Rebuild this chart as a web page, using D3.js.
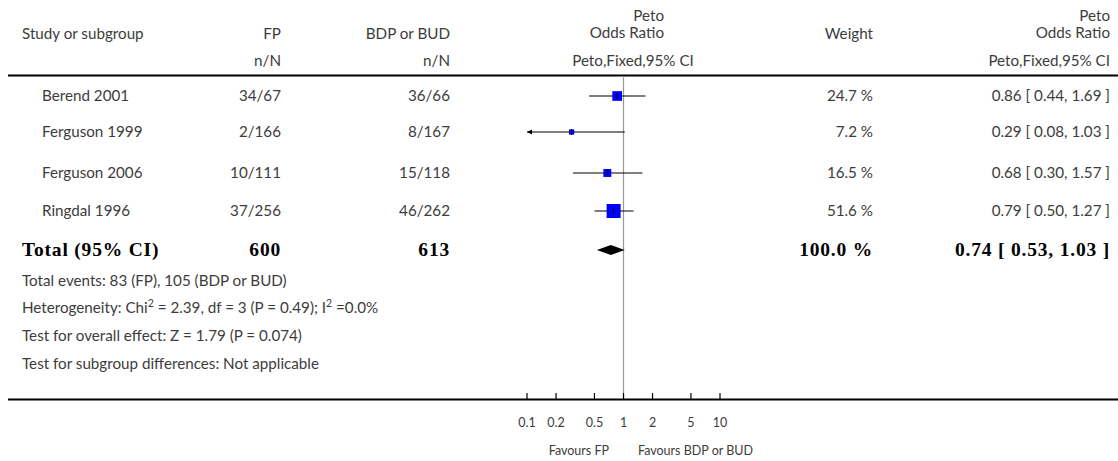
<!DOCTYPE html>
<html><head><meta charset="utf-8">
<script src="https://cdn.jsdelivr.net/npm/d3@7"></script>
<style>
body{margin:0;background:#fff;}
svg text{font-family:Lato,"Open Sans",sans-serif;fill:#3c3c3c;font-size:15.2px;}
svg text.bold{font-family:"Liberation Serif","DejaVu Serif",serif;font-weight:bold;fill:#000;font-size:19.5px;letter-spacing:0.8px;}
svg text.small{font-size:12.5px;}
</style></head><body>
<script>
const studies = ["Berend 2001","Ferguson 1999","Ferguson 2006","Ringdal 1996"];
const fpEvents = ["34/67","2/166","10/111","37/256"];
const bdpEvents = ["36/66","8/167","15/118","46/262"];
const weights = [24.7,7.2,16.5,51.6];
const orVals = [0.86,0.29,0.68,0.79];
const ciLow = [0.44,0.08,0.30,0.50];
const ciHigh = [1.69,1.03,1.57,1.27];
const total = {label:"Total (95% CI)", fp:"600", bdp:"613", weight:"100.0 %", or:0.74, lo:0.53, hi:1.03, ci:"0.74 [ 0.53, 1.03 ]"};
const tickVals = [0.1,0.2,0.5,1,2,5,10];
const tickLabels = ["0.1","0.2","0.5","1","2","5","10"];
const footnotes = ["Total events: 83 (FP), 105 (BDP or BUD)","Heterogeneity: Chi|2| = 2.39, df = 3 (P = 0.49); I|2| =0.0%","Test for overall effect: Z = 1.79 (P = 0.074)","Test for subgroup differences: Not applicable"];

const W=1118,H=461;
const svg=d3.select("body").append("svg").attr("width",W).attr("height",H);
const x=d3.scaleLog().domain([0.1,10]).range([527,720]);
const yPos=[96,132,173,211];
const size=d3.scaleSqrt().domain([0,51.6]).range([0,14]);

// headers
const hdr=[
 {t:"Study or subgroup",x:22,y:39,a:"start"},
 {t:"FP",x:281,y:39,a:"end"},
 {t:"BDP or BUD",x:450,y:39,a:"end"},
 {t:"Peto",x:664,y:21,a:"end"},
 {t:"Odds Ratio",x:664,y:38,a:"end"},
 {t:"Weight",x:873,y:39,a:"end"},
 {t:"Peto",x:1110,y:21,a:"end"},
 {t:"Odds Ratio",x:1110,y:38,a:"end"},
 {t:"n/N",x:281,y:66,a:"end"},
 {t:"n/N",x:450,y:66,a:"end"},
 {t:"Peto,Fixed,95% CI",x:633,y:66,a:"middle"},
 {t:"Peto,Fixed,95% CI",x:1110,y:66,a:"end"}
];
svg.selectAll("text.h").data(hdr).join("text").attr("class","h")
 .attr("x",d=>d.x).attr("y",d=>d.y).attr("text-anchor",d=>d.a).text(d=>d.t);

svg.append("line").attr("x1",8).attr("x2",1118).attr("y1",75.5).attr("y2",75.5).attr("stroke","#000").attr("stroke-width",2);
svg.append("line").attr("x1",8).attr("x2",1118).attr("y1",399.5).attr("y2",399.5).attr("stroke","#000").attr("stroke-width",2);
svg.append("line").attr("x1",x(1)).attr("x2",x(1)).attr("y1",76).attr("y2",399).attr("stroke","#999").attr("stroke-width",1.2);

// rows
studies.forEach((s,i)=>{
  const y=yPos[i];
  svg.append("text").attr("x",42).attr("y",y+5).text(s);
  svg.append("text").attr("x",281).attr("y",y+5).attr("text-anchor","end").text(fpEvents[i]);
  svg.append("text").attr("x",450).attr("y",y+5).attr("text-anchor","end").text(bdpEvents[i]);
  svg.append("text").attr("x",873).attr("y",y+5).attr("text-anchor","end").text(weights[i].toFixed(1)+" %");
  svg.append("text").attr("x",1110).attr("y",y+5).attr("text-anchor","end")
    .text(orVals[i].toFixed(2)+" [ "+ciLow[i].toFixed(2)+", "+ciHigh[i].toFixed(2)+" ]");
  const lo=Math.max(ciLow[i],0.1), hi=Math.min(ciHigh[i],10);
  svg.append("line").attr("x1",x(lo)).attr("x2",x(hi)).attr("y1",y).attr("y2",y).attr("stroke","#000").attr("stroke-width",1.2);
  if(ciLow[i]<0.1){
    svg.append("path").attr("d",`M${x(0.1)},${y} l5,-2.5 l0,5 z`).attr("fill","#000");
  }
  const s2=size(weights[i]);
  svg.append("rect").attr("x",x(orVals[i])-s2/2).attr("y",y-s2/2).attr("width",s2).attr("height",s2).attr("fill","#0000ff");
  svg.append("line").attr("x1",x(orVals[i])).attr("x2",x(orVals[i])).attr("y1",y-3).attr("y2",y+3).attr("stroke","#000").attr("stroke-width",1);
});

// total
const ty=250;
svg.append("text").attr("class","bold").attr("x",22).attr("y",ty+6).text(total.label);
svg.append("text").attr("class","bold").attr("x",281).attr("y",ty+6).attr("text-anchor","end").text(total.fp);
svg.append("text").attr("class","bold").attr("x",450).attr("y",ty+6).attr("text-anchor","end").text(total.bdp);
svg.append("text").attr("class","bold").attr("x",873).attr("y",ty+6).attr("text-anchor","end").text(total.weight);
svg.append("text").attr("class","bold").attr("x",1110).attr("y",ty+6).attr("text-anchor","end").text(total.ci);
svg.append("path").attr("d",`M${x(total.lo)},${ty} L${x(total.or)},${ty-5} L${x(total.hi)},${ty} L${x(total.or)},${ty+5} Z`).attr("fill","#000");

// footnotes
const fy=[286,313,341,369];
footnotes.forEach((f,i)=>{
  const t=svg.append("text").attr("x",22).attr("y",fy[i]);
  f.split("|").forEach((part,j)=>{
    const ts=t.append("tspan").text(part);
    if(j%2===1){ts.attr("dy",-6).style("font-size","10.5px");}
    else if(j>0){ts.attr("dy",6);}
  });
});

// axis
const ax=svg.append("g").attr("transform","translate(0,399)");
ax.selectAll("line.tk").data(tickVals).join("line").attr("x1",d=>x(d)).attr("x2",d=>x(d)).attr("y1",0).attr("y2",-6).attr("stroke","#000").attr("stroke-width",1.2);
ax.selectAll("text.tl").data(tickVals).join("text").attr("class","small").attr("x",d=>x(d)).attr("y",28).attr("text-anchor","middle").text((d,i)=>tickLabels[i]);
svg.append("text").attr("class","small").attr("x",609).attr("y",455).attr("text-anchor","end").text("Favours FP");
svg.append("text").attr("class","small").attr("x",638).attr("y",455).text("Favours BDP or BUD");
</script>
</body></html>
